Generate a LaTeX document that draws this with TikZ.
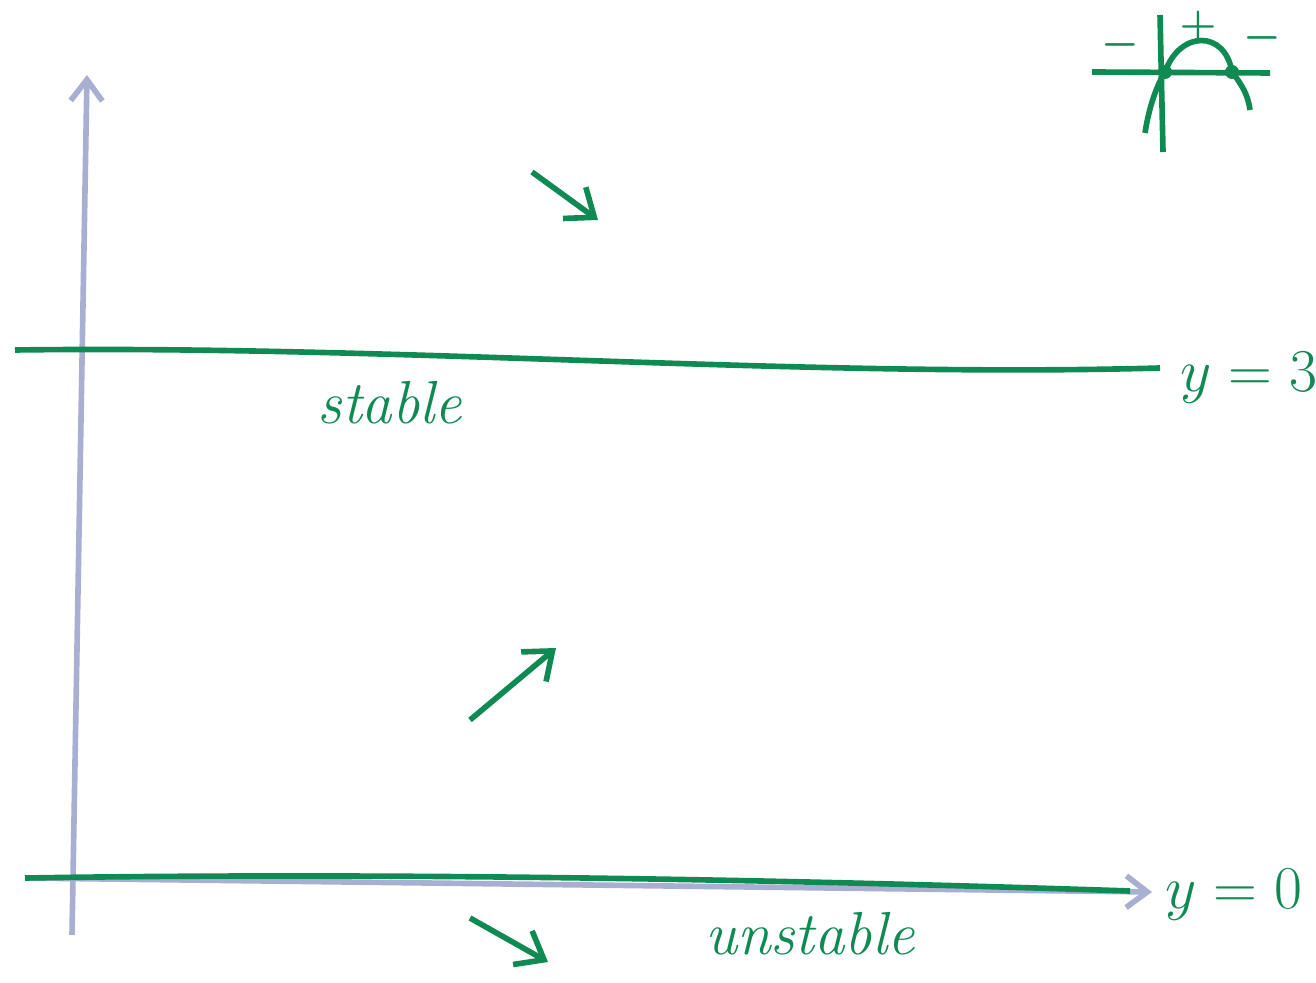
\documentclass[tikz,border=0pt]{standalone}
\usepackage{tikz}
\usepackage{amsmath}
\usetikzlibrary{arrows.meta}

\definecolor{pen}{HTML}{0E8A52}
\definecolor{axisblue}{HTML}{A9AED3}

\begin{document}
\begin{tikzpicture}[x=0.01cm, y=-0.01cm, auto]
\tikzstyle{axis} = [draw=axisblue, line width=1.6pt, -{Straight Barb[length=6pt, width=9pt]}]
\tikzstyle{sol} = [draw=pen, line width=1.6pt]
\tikzstyle{flow} = [draw=pen, line width=1.6pt, -{Straight Barb[length=7pt, width=11pt]}]
\tikzstyle{lbl} = [text=pen, font=\LARGE\itshape, inner sep=0pt]
\tikzstyle{sign} = [text=pen, font=\large\boldmath, inner sep=0pt]

\useasboundingbox (0,0) rectangle (1316,983);

% axes
\coordinate (origin) at (72,935);
\coordinate (ytop) at (87,75);
\coordinate (xleft) at (25,878);
\coordinate (xright) at (1152,892);
\path [axis] (origin) -- (ytop);
\path [axis] (xleft) -- (xright);

% equilibria
\coordinate (upleft) at (15,350);
\coordinate (upright) at (1160,368);
\path [sol] (upleft) .. controls (400,345) and (800,378) .. (upright);
\path [sol] (xleft) .. controls (400,872) and (800,880) .. (1130,891);

\node [lbl, anchor=west] (ythree) at (1180,378) {$y=3$};
\node [lbl, anchor=west] (yzero) at (1165,895) {$y=0$};
\node [lbl] (stable) at (390,403) {stable};
\node [lbl] (unstable) at (810,934) {unstable};

% direction of flow
\coordinate (a1) at (532,172);
\coordinate (a2) at (598,220);
\coordinate (b1) at (470,720);
\coordinate (b2) at (556,648);
\coordinate (c1) at (470,918);
\coordinate (c2) at (548,962);
\path [flow] (a1) -- (a2);
\path [flow] (b1) -- (b2);
\path [flow] (c1) -- (c2);

% sign of f(y)
\coordinate (hl) at (1092,72);
\coordinate (hr) at (1270,73);
\coordinate (vt) at (1160,15);
\coordinate (vb) at (1163,152);
\coordinate (root0) at (1165,72);
\coordinate (root3) at (1232,72);
\path [sol] (hl) -- (hr);
\path [sol] (vt) -- (vb);
\path [sol] (1145,133) .. controls (1150,100) and (1160,80) .. (root0)
  .. controls (1180,30) and (1225,30) .. (root3)
  .. controls (1242,85) and (1248,95) .. (1250,110);
\fill [pen] (root0) circle (7);
\fill [pen] (root3) circle (7);
\node [sign] (minusl) at (1120,45) {$-$};
\node [sign] (plus) at (1198,27) {$+$};
\node [sign] (minusr) at (1262,38) {$-$};

\end{tikzpicture}
\end{document}
